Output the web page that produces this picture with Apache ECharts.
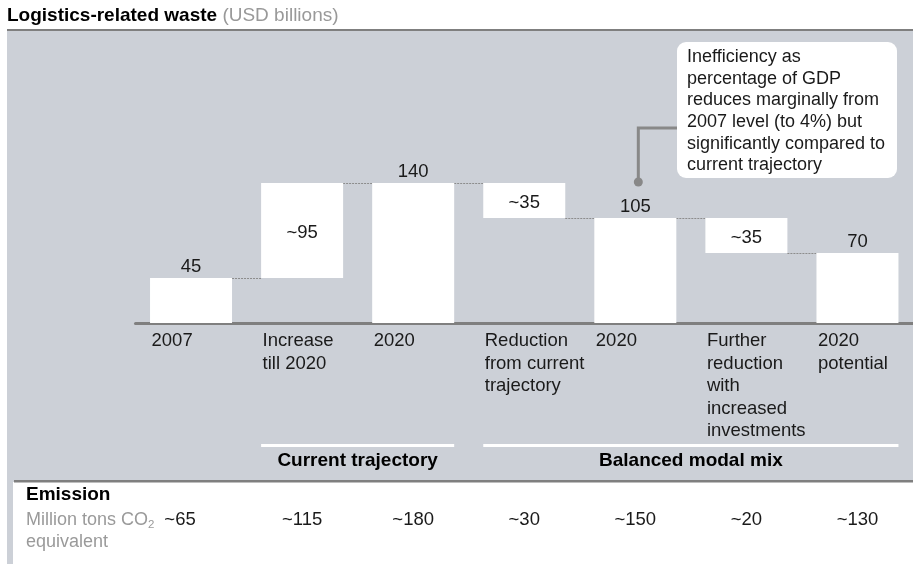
<!DOCTYPE html>
<html>
<head>
<meta charset="utf-8">
<script src="https://cdn.jsdelivr.net/npm/echarts@6/dist/echarts.min.js"></script>
<style>
  html, body { margin: 0; padding: 0; background: #fff; }
  #chart { width: 913px; height: 564px; }
</style>
</head>
<body>
<div id="chart"></div>
<script>
// waterfall data
const categories = ['2007', 'Increase\ntill 2020', '2020', 'Reduction\nfrom current\ntrajectory', '2020', 'Further\nreduction\nwith\nincreased\ninvestments', '2020\npotential']
const barValues = [45, 95, 140, 35, 105, 35, 70]
const barBase = [0, 45, 0, 105, 0, 70, 0]
const barLabels = ['45', '~95', '140', '~35', '105', '~35', '70']
const labelInside = [false, true, false, true, false, true, false]
const connectorLevels = [45, 140, 140, 105, 105, 70]
// emission row
const emissionLabels = ['~65', '~115', '~180', '~30', '~150', '~20', '~130']
const groupNames = ['Current trajectory', 'Balanced modal mix']
const groupFrom = [1, 3]
const groupTo = [2, 6]
const noteText = 'Inefficiency as\npercentage of GDP\nreduces marginally from\n2007 level (to 4%) but\nsignificantly compared to\ncurrent trajectory'
const notePoint = [4, 141]

const FONT = "'Liberation Sans', Arial, sans-serif"
const TXT = '#1a1a1a'
const BAR_W = 82
const FS = 18.5

const chart = echarts.init(document.getElementById('chart'))

const option = {
  animation: false,
  textStyle: { fontFamily: FONT },
  grid: [
    { left: 135.5, width: 784, top: 123, height: 200 },
    { left: 135.5, width: 784, top: 505, height: 1 }
  ],
  xAxis: [{
    gridIndex: 0,
    type: 'category',
    data: categories,
    axisTick: { show: false },
    axisLine: { lineStyle: { color: '#7f7f7f', width: 3 } },
    axisLabel: {
      interval: 0,
      margin: 7,
      align: 'center',
      formatter: v => v.split('\n').map(l => '{a|' + l + '}').join('\n'),
      rich: { a: { width: 79, align: 'left', fontSize: FS, lineHeight: 22.5, color: TXT, fontFamily: FONT } }
    }
  }, {
    gridIndex: 1,
    type: 'category',
    data: emissionLabels,
    axisTick: { show: false },
    axisLine: { show: false },
    axisLabel: {
      interval: 0,
      margin: 3,
      // first value sits a little left of its column in the original
      formatter: (v, i) => (i === 0 ? '{f|' + v + '}' : '{n|' + v + '}'),
      rich: {
        n: { fontSize: FS, lineHeight: 22, color: TXT, fontFamily: FONT },
        f: { fontSize: FS, lineHeight: 22, color: TXT, fontFamily: FONT, padding: [0, 22, 0, 0] }
      }
    }
  }],
  yAxis: [
    { gridIndex: 0, type: 'value', min: 0, max: 200, show: false },
    { gridIndex: 1, type: 'value', min: 0, max: 1, show: false }
  ],
  series: [{
    type: 'bar',
    stack: 'w',
    barWidth: BAR_W,
    silent: true,
    itemStyle: { color: 'transparent' },
    data: barBase
  }, {
    type: 'bar',
    stack: 'w',
    barWidth: BAR_W,
    silent: true,
    itemStyle: { color: '#ffffff' },
    label: {
      show: true,
      fontSize: FS,
      color: TXT,
      fontFamily: FONT,
      formatter: p => barLabels[p.dataIndex]
    },
    data: barValues.map((v, i) => ({
      value: v,
      label: labelInside[i] ? { position: 'inside', offset: [0, 2.5] } : { position: 'top', distance: 1.5 }
    }))
  }, {
    type: 'custom',
    silent: true,
    z: 1,
    data: connectorLevels.map((v, i) => [i, v]),
    encode: { x: 0, y: 1 },
    renderItem: (params, api) => {
      const i = api.value(0), lvl = api.value(1)
      const p1 = api.coord([i, lvl]), p2 = api.coord([i + 1, lvl])
      const y = Math.round(p1[1]) + 0.5
      return {
        type: 'line',
        shape: { x1: p1[0] + BAR_W / 2, y1: y, x2: p2[0] - BAR_W / 2, y2: y },
        style: { stroke: '#8c8c8c', lineWidth: 1, lineDash: [2, 1] }
      }
    }
  }]
}
chart.setOption(option)

// decorations placed from the axes
const px = (i, v) => chart.convertToPixel({ xAxisIndex: 0, yAxisIndex: 0 }, [i, v])
const graphics = [
  { type: 'rect', z: -10, shape: { x: 7, y: 29, width: 906, height: 453 }, style: { fill: '#ccd0d7' } },
  { type: 'rect', z: -9, shape: { x: 7, y: 29, width: 906, height: 2 }, style: { fill: '#7f7f7f' } },
  { type: 'rect', z: -9, shape: { x: 14, y: 480, width: 899, height: 2.5 }, style: { fill: '#7f7f7f' } },
  { type: 'rect', z: -9, shape: { x: 7, y: 482, width: 6, height: 82 }, style: { fill: '#ccd0d7' } },
  {
    type: 'text', x: 7, y: 6, z: 10,
    style: {
      text: '{b|Logistics-related waste}{g| (USD billions)}',
      rich: {
        b: { fontSize: 19, fontWeight: 'bold', fill: '#000', fontFamily: FONT },
        g: { fontSize: 19, fill: '#999999', fontFamily: FONT }
      }
    }
  },
  {
    type: 'text', x: 26, y: 485, z: 10,
    style: { text: 'Emission', fontSize: 19, fontWeight: 'bold', fill: '#000', fontFamily: FONT }
  },
  {
    type: 'text', x: 26, y: 509, z: 10,
    style: {
      text: '{a|Million tons CO}{s|2}\n{a|equivalent}',
      rich: {
        a: { fontSize: 18, lineHeight: 22, fill: '#9a9a9a', fontFamily: FONT },
        s: { fontSize: 11.5, lineHeight: 11, verticalAlign: 'bottom', fill: '#9a9a9a', fontFamily: FONT }
      }
    }
  }
]

groupNames.forEach((name, g) => {
  const x1 = px(groupFrom[g], 0)[0] - BAR_W / 2
  const x2 = px(groupTo[g], 0)[0] + BAR_W / 2
  graphics.push({ type: 'rect', z: 5, shape: { x: x1, y: 444, width: x2 - x1, height: 3 }, style: { fill: '#ffffff' } })
  graphics.push({
    type: 'text', x: (x1 + x2) / 2, y: 461, z: 10,
    style: { text: name, fontSize: 19, fontWeight: 'bold', fill: '#000', align: 'center', verticalAlign: 'middle', fontFamily: FONT }
  })
})

// callout
const dot = px(notePoint[0], notePoint[1])
const boxX = 677, boxY = 42, boxW = 220, boxH = 136
graphics.push({ type: 'rect', z: 5, shape: { x: boxX, y: boxY, width: boxW, height: boxH, r: 9 }, style: { fill: '#ffffff' } })
graphics.push({
  type: 'polyline', z: 6,
  shape: { points: [[boxX, 128], [dot[0] + 3, 128], [dot[0] + 3, dot[1]]] },
  style: { stroke: '#888888', lineWidth: 3, fill: null }
})
graphics.push({ type: 'circle', z: 7, shape: { cx: dot[0] + 3, cy: dot[1], r: 4.5 }, style: { fill: '#888888' } })
graphics.push({
  type: 'text', x: 687, y: 46, z: 10,
  style: { text: noteText, fontSize: 18, lineHeight: 21.7, fill: TXT, fontFamily: FONT }
})

chart.setOption({ graphic: graphics })
</script>
</body>
</html>
